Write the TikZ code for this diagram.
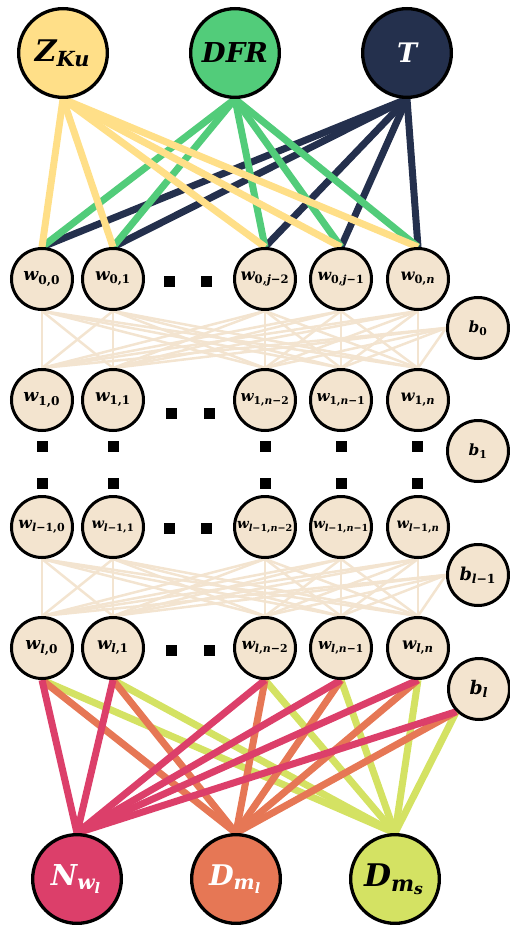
\documentclass[tikz,border=0pt]{standalone}
\usepackage{amsmath,graphicx}
\usepackage{fontspec}
\setmainfont{DejaVu Serif}
\usetikzlibrary{backgrounds}
\definecolor{zyel}{HTML}{FFDF88}
\definecolor{dgreen}{HTML}{52CC7A}
\definecolor{navy}{HTML}{24304D}
\definecolor{beige}{HTML}{F3E4CF}
\definecolor{beigeline}{HTML}{F3E4D0}
\definecolor{crim}{HTML}{DC3F6A}
\definecolor{orng}{HTML}{E67755}
\definecolor{lime}{HTML}{D4E263}
\newcommand{\tb}[1]{\text{\bfseries\itshape #1}}
\newcommand{\tu}[1]{\text{\bfseries #1}}
\newcommand{\lbl}[2]{\resizebox{#1pt}{!}{$#2$}}
\tikzset{
  bignode/.style={circle, draw=black, line width=3.3pt, minimum size=88.7pt, inner sep=0pt},
  wnode/.style={circle, draw=black, line width=3pt, fill=beige, minimum size=61pt, inner sep=0pt},
  sq/.style={fill=black, minimum size=11pt, inner sep=0pt, draw=none},
  thick6/.style={line width=7pt},
  thin2/.style={line width=2.5pt, beigeline}
}
\begin{document}
\begin{tikzpicture}[x=1pt,y=-1pt]
\useasboundingbox (0,0) rectangle (510,925);
% top nodes
\node[bignode, fill=zyel] (Z) at (63,53) {\lbl{56}{\tb{Z}_{\tb{Ku}}}};
\node[bignode, fill=dgreen] (DFR) at (235,53) {\lbl{66}{\tb{DFR}}};
\node[bignode, fill=navy, text=white] (T) at (407,53) {\lbl{20}{\tb{T}}};
% row 0
\node[wnode] (a0) at (42,279) {\lbl{37}{\tb{w}_{\tu{0,0}}}};
\node[wnode] (a1) at (113,279) {\lbl{36}{\tb{w}_{\tu{0,1}}}};
\node[wnode] (a2) at (265,279) {\lbl{49}{\tb{w}_{\tu{0,}\tb{j}\tu{−2}}}};
\node[wnode] (a3) at (341,279) {\lbl{47}{\tb{w}_{\tu{0,}\tb{j}\tu{−1}}}};
\node[wnode] (a4) at (418,279) {\lbl{35}{\tb{w}_{\tu{0,}\tb{n}}}};
\node[wnode] (b0) at (478,328) {\lbl{19}{\tb{b}_{\tu{0}}}};
% row 1
\node[wnode] (c0) at (42,400) {\lbl{37}{\tb{w}_{\tu{1,0}}}};
\node[wnode] (c1) at (113,400) {\lbl{36}{\tb{w}_{\tu{1,1}}}};
\node[wnode] (c2) at (265,400) {\lbl{49}{\tb{w}_{\tu{1,}\tb{n}\tu{−2}}}};
\node[wnode] (c3) at (341,400) {\lbl{49}{\tb{w}_{\tu{1,}\tb{n}\tu{−1}}}};
\node[wnode] (c4) at (418,400) {\lbl{35}{\tb{w}_{\tu{1,}\tb{n}}}};
\node[wnode] (b1) at (478,451) {\lbl{19}{\tb{b}_{\tu{1}}}};
% row l-1
\node[wnode] (d0) at (42,527) {\lbl{47}{\tb{w}_{\tb{l}\tu{−1,0}}}};
\node[wnode] (d1) at (113,527) {\lbl{43}{\tb{w}_{\tb{l}\tu{−1,1}}}};
\node[wnode] (d2) at (265,527) {\lbl{56}{\tb{w}_{\tb{l}\tu{−1,}\tb{n}\tu{−2}}}};
\node[wnode] (d3) at (341,527) {\lbl{56}{\tb{w}_{\tb{l}\tu{−1,}\tb{n}\tu{−1}}}};
\node[wnode] (d4) at (418,527) {\lbl{43}{\tb{w}_{\tb{l}\tu{−1,}\tb{n}}}};
\node[wnode] (b2) at (478,575) {\lbl{37}{\tb{b}_{\tb{l}\tu{−1}}}};
% row l
\node[wnode] (e0) at (42,648) {\lbl{33}{\tb{w}_{\tb{l}\tu{,0}}}};
\node[wnode] (e1) at (113,648) {\lbl{32}{\tb{w}_{\tb{l}\tu{,1}}}};
\node[wnode] (e2) at (265,648) {\lbl{47}{\tb{w}_{\tb{l}\tu{,}\tb{n}\tu{−2}}}};
\node[wnode] (e3) at (341,648) {\lbl{46}{\tb{w}_{\tb{l}\tu{,}\tb{n}\tu{−1}}}};
\node[wnode] (e4) at (418,648) {\lbl{32}{\tb{w}_{\tb{l}\tu{,}\tb{n}}}};
\node[wnode] (b3) at (479,689) {\lbl{19}{\tb{b}_{\tb{l}}}};
% bottom nodes
\node[bignode, fill=crim, text=white] (N) at (77,879) {\lbl{52}{\tb{N}_{\tb{w}_{\tb{l}}}}};
\node[bignode, fill=orng, text=white] (DML) at (236,879) {\lbl{54}{\tb{D}_{\tb{m}_{\tb{l}}}}};
\node[bignode, fill=lime] (DMS) at (395,879) {\lbl{62}{\tb{D}_{\tb{m}_{\tb{s}}}}};
% dots
\node[sq] (h0a) at (169,281) {};
\node[sq] (h0b) at (206,281) {};
\node[sq] (h1a) at (171,413) {};
\node[sq] (h1b) at (209,413) {};
\node[sq] (h2a) at (169,528) {};
\node[sq] (h2b) at (206,528) {};
\node[sq] (h3a) at (171,650) {};
\node[sq] (h3b) at (209,650) {};
\foreach \x [count=\i] in {42,113,265,341,417}{
  \node[sq] (va\i) at (\x,446) {};
  \node[sq] (vb\i) at (\x,483) {};
}
\begin{pgfonlayer}{background}
  % top connectors
  \foreach \s/\c in {T/navy, DFR/dgreen, Z/zyel}{
    \foreach \t in {a0,a1,a2,a3,a4}{
      \draw[thick6, \c] (\s.south) -- (\t.north);
    }
  }
  % hidden layers
  \foreach \s in {a0,a1,a2,a3,a4}{
    \foreach \t in {c0,c1,c2,c3,c4}{
      \draw[thin2] (\s.south) -- (\t.north);
    }
  }
  \foreach \t in {c0,c1,c2,c3,c4}{ \draw[thin2] (b0.west) -- (\t.north); }
  \foreach \s in {d0,d1,d2,d3,d4}{
    \foreach \t in {e0,e1,e2,e3,e4}{
      \draw[thin2] (\s.south) -- (\t.north);
    }
  }
  \foreach \t in {e0,e1,e2,e3,e4}{ \draw[thin2] (b2.west) -- (\t.north); }
  % output connectors
  \foreach \t/\c in {DMS/lime, DML/orng, N/crim}{
    \foreach \s in {e0,e1,e2,e3,e4}{
      \draw[thick6, \c] (\s.south) -- (\t.north);
    }
    \draw[thick6, \c] (b3.south west) -- (\t.north);
  }
\end{pgfonlayer}
\end{tikzpicture}
\end{document}
